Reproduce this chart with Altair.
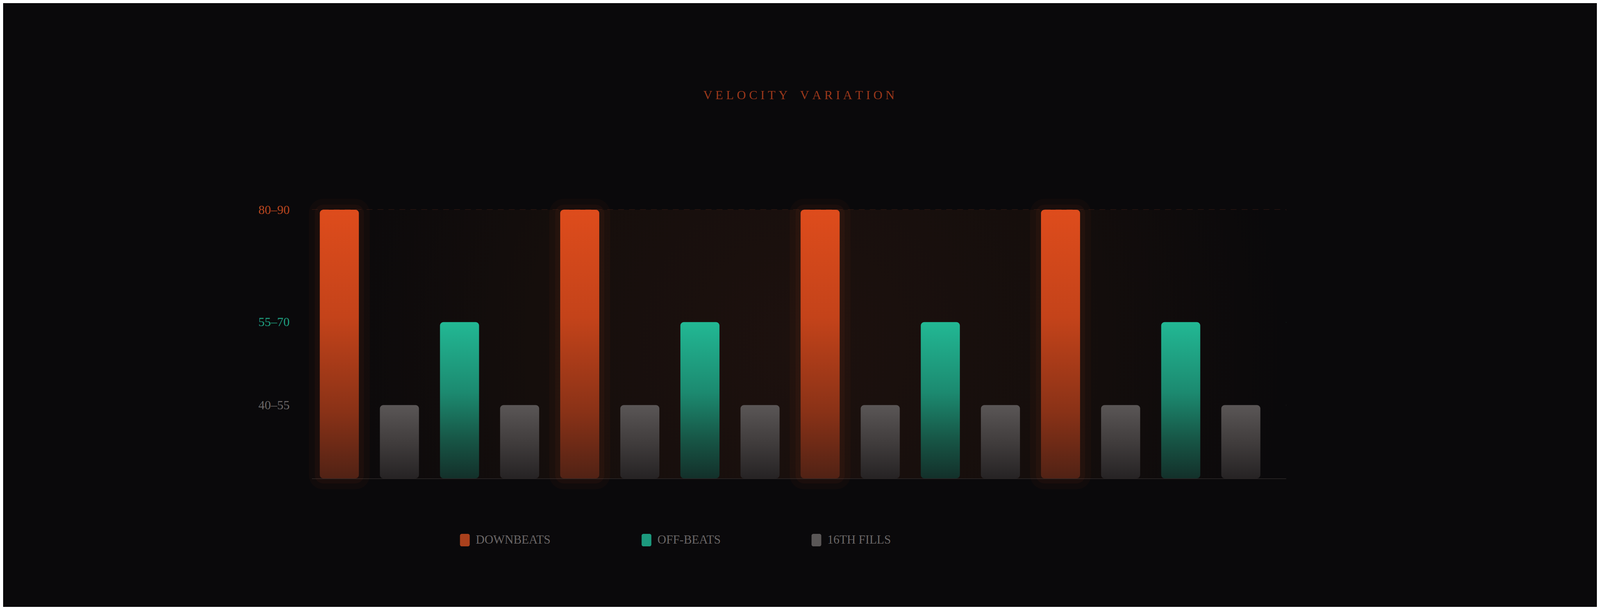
import altair as alt
import pandas as pd

# ---------------- data ----------------
TITLE = "VELOCITY VARIATION"
STEPS = [1, 2, 3, 4, 5, 6, 7, 8, 9, 10, 11, 12, 13, 14, 15, 16]
BAR_TYPE = ["DOWNBEATS", "16TH FILLS", "OFF-BEATS", "16TH FILLS",
            "DOWNBEATS", "16TH FILLS", "OFF-BEATS", "16TH FILLS",
            "DOWNBEATS", "16TH FILLS", "OFF-BEATS", "16TH FILLS",
            "DOWNBEATS", "16TH FILLS", "OFF-BEATS", "16TH FILLS"]
VELOCITY = [90, 50, 67, 50, 90, 50, 67, 50, 90, 50, 67, 50, 90, 50, 67, 50]
VEL_FLOOR = 35
TICK_VALUES = [90, 67, 50]
TICK_LABELS = ["80–90", "55–70", "40–55"]
LEGEND_NAMES = ["DOWNBEATS", "OFF-BEATS", "16TH FILLS"]

# ---------------- styles ----------------
FONT = "Liberation Serif"
BG = "#0a090b"
LEGEND_COLORS = ["#a9401c", "#1c9a7e", "#5a5757"]
TICK_LABEL_COLORS = ["#b8461f", "#1f9e80", "#6b6767"]
TICK_GRID_COLORS = ["#642a1a", "#1c4e42", "#3b3636"]
GRADIENTS = {
    "DOWNBEATS": [("#de4c1c", 0), ("#c4431a", 0.4), ("#8a3217", 0.75), ("#512215", 1)],
    "OFF-BEATS": [("#22b894", 0), ("#1c8a70", 0.45), ("#175646", 0.75), ("#13302a", 1)],
    "16TH FILLS": [("#5a5656", 0), ("#413d3d", 0.5), ("#262324", 1)],
}

df = pd.DataFrame({"step": STEPS, "type": BAR_TYPE, "velocity": VELOCITY,
                   "floor": [VEL_FLOOR] * len(STEPS)})

label_expr = " : ".join(
    f"datum.value == {v} ? '{l}'" for v, l in zip(TICK_VALUES[:-1], TICK_LABELS[:-1])
) + f" : '{TICK_LABELS[-1]}'"


def cond(colors):
    return {
        "condition": [{"test": f"datum.value == {v}", "value": c}
                      for v, c in zip(TICK_VALUES[:-1], colors[:-1])],
        "value": colors[-1],
    }


x_enc = alt.X(
    "step:O",
    scale=alt.Scale(paddingInner=0.35, paddingOuter=0.28, align=0.24),
    axis=alt.Axis(title=None, labels=False, ticks=False, domain=True,
                  domainColor="#2f2a2a", domainWidth=2, grid=False),
)
y_enc = alt.Y(
    "velocity:Q",
    scale=alt.Scale(domain=[VEL_FLOOR, TICK_VALUES[0]], zero=False, nice=False),
    axis=alt.Axis(title=None, values=TICK_VALUES, labelExpr=label_expr,
                  ticks=False, domain=False, labelPadding=57,
                  labelFont=FONT, labelFontSize=32,
                  labelColor=cond(TICK_LABEL_COLORS),
                  grid=True, gridColor=cond(TICK_GRID_COLORS),
                  gridDash=[15, 13], gridWidth=2),
)
y2_enc = alt.Y2("floor:Q")

base = alt.Chart(df).encode(x=x_enc, y=y_enc, y2=y2_enc)

bg = alt.Chart(pd.DataFrame({"bg": [0]})).mark_rect(
    fill=alt.RadialGradient(
        gradient="radial",
        stops=[alt.GradientStop(color="#1d110e", offset=0),
               alt.GradientStop(color="#150e0c", offset=0.55),
               alt.GradientStop(color=BG, offset=1)],
        x1=0.5, y1=0.5, r1=0, x2=0.5, y2=0.5, r2=0.5),
).encode(opacity=alt.value(1))

glow_outer = base.transform_filter(alt.datum.type == LEGEND_NAMES[0]).mark_bar(
    fillOpacity=0, stroke="#e04e1e", strokeWidth=56, strokeOpacity=0.035,
    strokeJoin="round", cornerRadius=9)
glow_inner = base.transform_filter(alt.datum.type == LEGEND_NAMES[0]).mark_bar(
    fillOpacity=0, stroke="#e04e1e", strokeWidth=26, strokeOpacity=0.05,
    strokeJoin="round", cornerRadius=9)

bar_layers = []
for name in LEGEND_NAMES:
    grad = alt.LinearGradient(
        gradient="linear",
        stops=[alt.GradientStop(color=c, offset=o) for c, o in GRADIENTS[name]],
        x1=0, x2=0, y1=0, y2=1)
    bar_layers.append(
        base.transform_filter(alt.datum.type == name).mark_bar(
            fill=grad, cornerRadius=9))

legend_proxy = base.mark_bar(opacity=0).encode(
    color=alt.Color(
        "type:N",
        scale=alt.Scale(domain=LEGEND_NAMES, range=LEGEND_COLORS),
        legend=alt.Legend(
            title=None, orient="none", direction="horizontal", columns=3,
            legendX=376, legendY=830, columnPadding=229, padding=0,
            symbolType="M-0.48,-1H0.48A0.3,0.3,0,0,1,0.78,-0.7V0.7A0.3,0.3,0,0,1,0.48,1H-0.48A0.3,0.3,0,0,1,-0.78,0.7V-0.7A0.3,0.3,0,0,1,-0.48,-1Z",
            symbolSize=1024, symbolOpacity=1, symbolStrokeWidth=0,
            labelFont=FONT, labelFontSize=31, labelColor="#6b6767",
            labelOffset=12, labelLimit=600,
        ),
    )
)

spaced_title = ("\u00a0" * 4).join("\u00a0".join(w) for w in TITLE.split(" "))

chart = alt.layer(bg, glow_outer, glow_inner, *bar_layers, legend_proxy).properties(
    width=2494,
    height=688,
    title=alt.TitleParams(spaced_title, anchor="middle", frame="group",
                          font=FONT, fontSize=32, fontWeight="normal",
                          color="#9a381b", offset=248),
    autosize=alt.AutoSizeParams(type="none"),
    padding={"left": 790, "top": 529, "right": 796, "bottom": 329},
    background=BG,
).configure(font=FONT).configure_view(stroke="transparent", strokeWidth=0)

chart.save("out.html", embed_options={"renderer": "svg", "actions": False})
